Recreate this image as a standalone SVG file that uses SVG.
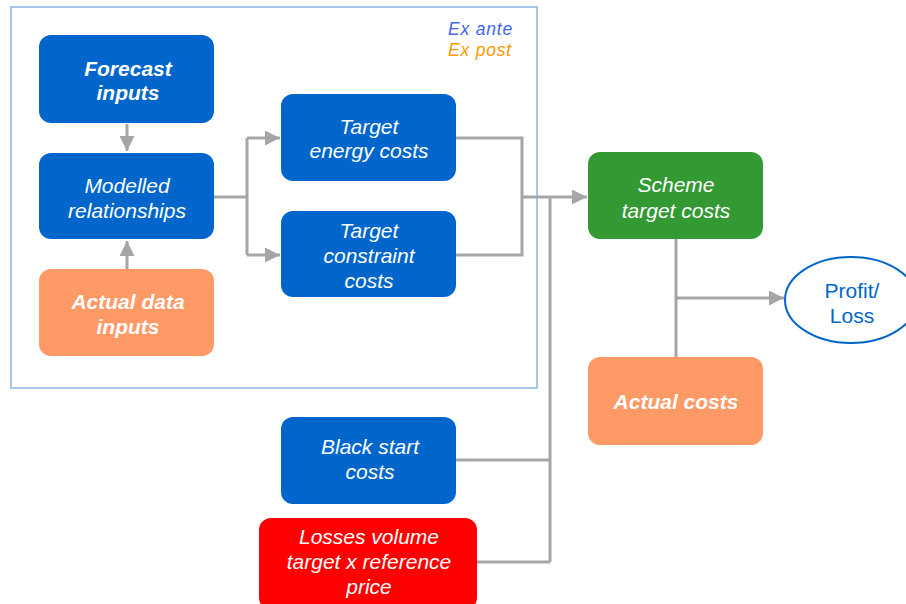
<svg xmlns="http://www.w3.org/2000/svg" width="906" height="604" viewBox="0 0 906 604">
<defs>
<style>
.blue{fill:#0066CC}
.orange{fill:#FF9966}
.green{fill:#339933}
.red{fill:#FF0000}
.t{font-family:"Liberation Sans",Arial,sans-serif;font-size:21px;font-style:italic;fill:#FFFFFF;text-anchor:middle}
.b{font-weight:bold}
.c{fill:none;stroke:#A6A6A6;stroke-width:3}
</style>
<marker id="ah" viewBox="0 0 10 10" refX="10" refY="5" markerWidth="5" markerHeight="5" markerUnits="strokeWidth" orient="auto">
<path d="M0,0 L10,5 L0,10 z" fill="#A6A6A6"/>
</marker>
</defs>
<rect width="906" height="604" fill="#FFFFFF"/>
<g id="frame">
<rect x="11" y="7" width="526" height="381" fill="none" stroke="#8DB3E2" stroke-width="1.5"/>
<text x="513" y="35" font-family="'Liberation Sans',Arial,sans-serif" font-size="17.5" font-style="italic" fill="#4466EE" text-anchor="end" letter-spacing="0.8">Ex ante</text>
<text x="512" y="56" font-family="'Liberation Sans',Arial,sans-serif" font-size="17.5" font-style="italic" fill="#FF9900" text-anchor="end" letter-spacing="0.8">Ex post</text>
</g>
<g id="connectors">
<path class="c" d="M127,124 V151" marker-end="url(#ah)"/>
<path class="c" d="M127,269 V241" marker-end="url(#ah)"/>
<path class="c" d="M214,197 H247"/>
<path class="c" d="M247,138 V255"/>
<path class="c" d="M247,138 H280" marker-end="url(#ah)"/>
<path class="c" d="M247,255 H280" marker-end="url(#ah)"/>
<path class="c" d="M456,138 H522 V255 H456"/>
<path class="c" d="M522,197 H587" marker-end="url(#ah)"/>
<path class="c" d="M550,197 V562"/>
<path class="c" d="M456,460 H550"/>
<path class="c" d="M477,562 H550"/>
<path class="c" d="M676,239 V357"/>
<path class="c" d="M676,298 H784" marker-end="url(#ah)"/>
</g>
<g id="forecast">
<rect class="blue" x="39" y="35" width="175" height="88" rx="12"/>
<text class="t b" x="128" y="76">Forecast</text>
<text class="t b" x="128" y="100">inputs</text>
</g>
<g id="modelled">
<rect class="blue" x="39" y="153" width="175" height="86" rx="12"/>
<text class="t" x="127" y="193">Modelled</text>
<text class="t" x="127" y="218">relationships</text>
</g>
<g id="actual-data">
<rect class="orange" x="39" y="269" width="175" height="87" rx="12"/>
<text class="t b" x="128" y="309">Actual data</text>
<text class="t b" x="128" y="334">inputs</text>
</g>
<g id="target-energy">
<rect class="blue" x="281" y="94" width="175" height="87" rx="12"/>
<text class="t" x="369" y="134">Target</text>
<text class="t" x="369" y="158">energy costs</text>
</g>
<g id="target-constraint">
<rect class="blue" x="281" y="211" width="175" height="86" rx="12"/>
<text class="t" x="369" y="238">Target</text>
<text class="t" x="369" y="263">constraint</text>
<text class="t" x="369" y="288">costs</text>
</g>
<g id="scheme">
<rect class="green" x="588" y="152" width="175" height="87" rx="12"/>
<text class="t" x="676" y="192">Scheme</text>
<text class="t" x="676" y="218">target costs</text>
</g>
<g id="actual-costs">
<rect class="orange" x="588" y="357" width="175" height="88" rx="12"/>
<text class="t b" x="676" y="409">Actual costs</text>
</g>
<g id="profit-loss">
<ellipse cx="851" cy="300" rx="66" ry="43" fill="#FFFFFF" stroke="#0066CC" stroke-width="2"/>
<text x="852" y="298" font-family="'Liberation Sans',Arial,sans-serif" font-size="21" fill="#0066CC" text-anchor="middle">Profit/</text>
<text x="852" y="323" font-family="'Liberation Sans',Arial,sans-serif" font-size="21" fill="#0066CC" text-anchor="middle">Loss</text>
</g>
<g id="black-start">
<rect class="blue" x="281" y="417" width="175" height="87" rx="12"/>
<text class="t" x="370" y="454">Black start</text>
<text class="t" x="370" y="479">costs</text>
</g>
<g id="losses">
<rect class="red" x="259" y="518" width="218" height="92" rx="12"/>
<text class="t" x="369" y="544">Losses volume</text>
<text class="t" x="369" y="569">target x reference</text>
<text class="t" x="369" y="594">price</text>
</g>
</svg>
